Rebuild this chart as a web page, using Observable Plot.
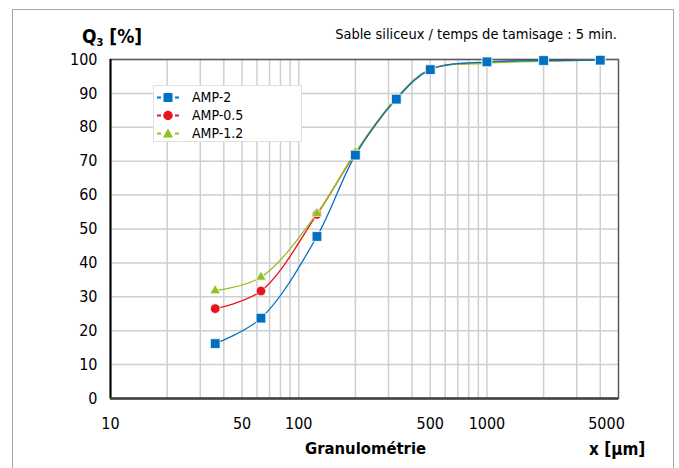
<!DOCTYPE html>
<html>
<head>
<meta charset="utf-8">
<script src="https://cdn.jsdelivr.net/npm/d3@7"></script>
<script src="https://cdn.jsdelivr.net/npm/@observablehq/plot@0.6"></script>
<style>
  html, body { margin: 0; padding: 0; background: #fff; }
  #wrap { position: relative; width: 679px; height: 468px; overflow: hidden; font-family: "DejaVu Sans Condensed", "DejaVu Sans", sans-serif; color: #000; }
  #border { position: absolute; left: 12px; top: 9px; width: 662px; height: 470px; border: 1px solid #a6a6a6; box-sizing: border-box; }
  .abs { position: absolute; white-space: nowrap; line-height: 1; }
  #ytitle { left: 82px; top: 27px; font-size: 19px; font-weight: bold; }
  #ytitle sub { font-size: 11px; vertical-align: -3px; }
  #subtitle { right: 62px; top: 27px; font-size: 14.5px; }
  #xtitle { left: 305px; top: 441px; font-size: 16.5px; font-weight: bold; }
  #xunit { left: 589px; top: 441px; font-size: 17px; font-weight: bold; }
  #legend { left: 153px; top: 85px; width: 149px; height: 57px; background: #fff; border: 1px solid #e0e0e0; box-sizing: border-box; }
  .lrow { position: absolute; left: 0; height: 18px; display: flex; align-items: center; font-size: 14px; }
  .lrow svg { margin-left: 3px; margin-right: 13px; }
</style>
</head>
<body>
<div id="wrap">
  <div id="border"></div>
  <div id="chart" style="position:absolute;left:0;top:0;"></div>
  <div class="abs" id="ytitle">Q<sub>3</sub> [%]</div>
  <div class="abs" id="subtitle">Sable siliceux / temps de tamisage : 5 min.</div>
  <div class="abs" id="xtitle">Granulométrie</div>
  <div class="abs" id="xunit">x [µm]</div>
  <div class="abs" id="legend"></div>
</div>
<script>
// Data
const sizes = [36, 63, 125, 200, 330, 500, 1000, 2000, 4000];
const amp2  = [16.2, 23.7, 47.8, 71.8, 88.3, 97.0, 99.3, 99.7, 99.8];
const amp05 = [26.5, 31.7, 54.3, 72.3, 88.5, 97.1, 99.1, 99.6, 99.8];
const amp12 = [31.8, 35.8, 54.6, 72.6, 88.7, 97.2, 98.9, 99.5, 99.8];

const seriesNames = ["AMP-2", "AMP-0.5", "AMP-1.2"];
const seriesColors = ["#0070c0", "#e8131e", "#92c01f"];
const seriesSymbols = ["square", "circle", "triangle"];

const xTickLabels = [10, 50, 100, 500, 1000];
const xTickLabelsEnd = [5000];
const yTicks = [0, 10, 20, 30, 40, 50, 60, 70, 80, 90, 100];
const xGrid = [20, 30, 40, 50, 60, 70, 80, 90, 100, 200, 300, 400, 500, 600, 700, 800, 900, 1000, 2000, 3000, 4000];

const toRows = (vals, name) => sizes.map((s, i) => ({ size: s, q: vals[i], series: name }));
const rows2 = toRows(amp2, "AMP-2");
const rows05 = toRows(amp05, "AMP-0.5");
const rows12 = toRows(amp12, "AMP-1.2");

const lineOpts = (color) => ({ x: "size", y: "q", stroke: color, strokeWidth: 1.3, curve: "catmull-rom" });
const fmt = (d) => String(d);
const tickTextOpts = { x: (d) => d, text: fmt, frameAnchor: "bottom", lineAnchor: "middle", dy: 25, fontSize: 16, fill: "#000" };

const chart = Plot.plot({
  width: 679,
  height: 468,
  marginLeft: 110,
  marginRight: 61,
  marginTop: 59,
  marginBottom: 70,
  style: { fontFamily: '"DejaVu Sans Condensed", "DejaVu Sans", sans-serif', background: "transparent", overflow: "visible" },
  x: { type: "log", domain: [10, 5000], axis: null },
  y: { domain: [0, 100], axis: null },
  marks: [
    Plot.gridX(xGrid, { stroke: "#cfcfcf", strokeOpacity: 1, strokeWidth: 1.5 }),
    Plot.gridY(yTicks, { stroke: "#cfcfcf", strokeOpacity: 1, strokeWidth: 1.5 }),
    Plot.frame({ stroke: "#595959", strokeWidth: 1.5 }),
    Plot.ruleX([10], { stroke: "#000", strokeWidth: 2 }),
    Plot.ruleY([0], { stroke: "#404040", strokeWidth: 2.5 }),
    Plot.axisY(yTicks, { tickSize: 0, tickPadding: 13, fontSize: 16, fill: "#000", label: null, tickFormat: fmt }),
    Plot.text(xTickLabels, tickTextOpts),
    Plot.text(xTickLabelsEnd, { ...tickTextOpts, dx: -12 }),
    Plot.line(rows05, lineOpts(seriesColors[1])),
    Plot.line(rows12, lineOpts(seriesColors[2])),
    Plot.line(rows2, lineOpts(seriesColors[0])),
    Plot.dot(rows05, { x: "size", y: "q", symbol: "circle", r: 4.8, fill: seriesColors[1], stroke: "#fff", strokeWidth: 0.7 }),
    Plot.dot(rows12, { x: "size", y: "q", symbol: "triangle", r: 3.9, fill: seriesColors[2], stroke: "#fff", strokeWidth: 0.7 }),
    Plot.dot(rows2, { x: "size", y: "q", symbol: "square", r: 5.5, fill: seriesColors[0], stroke: "#fff", strokeWidth: 0.8 })
  ]
});
document.getElementById("chart").appendChild(chart);

// Legend
const legend = document.getElementById("legend");
const symbolSvg = (i) => {
  const c = seriesColors[i];
  let m;
  if (seriesSymbols[i] === "square") m = `<rect x="6.5" y="4" width="9" height="9" fill="${c}"/>`;
  else if (seriesSymbols[i] === "circle") m = `<circle cx="11" cy="8.5" r="4.7" fill="${c}"/>`;
  else m = `<path d="M11,3.5 L16,12.5 L6,12.5 Z" fill="${c}"/>`;
  return `<svg width="22" height="17" viewBox="0 0 22 17">
    <line x1="0" y1="8.5" x2="4" y2="8.5" stroke="${c}" stroke-width="2"/>
    <line x1="18" y1="8.5" x2="22" y2="8.5" stroke="${c}" stroke-width="2"/>
    ${m}</svg>`;
};
seriesNames.forEach((name, i) => {
  const row = document.createElement("div");
  row.className = "lrow";
  row.style.top = (2 + i * 18) + "px";
  row.innerHTML = symbolSvg(i) + `<span>${name}</span>`;
  legend.appendChild(row);
});
</script>
</body>
</html>
